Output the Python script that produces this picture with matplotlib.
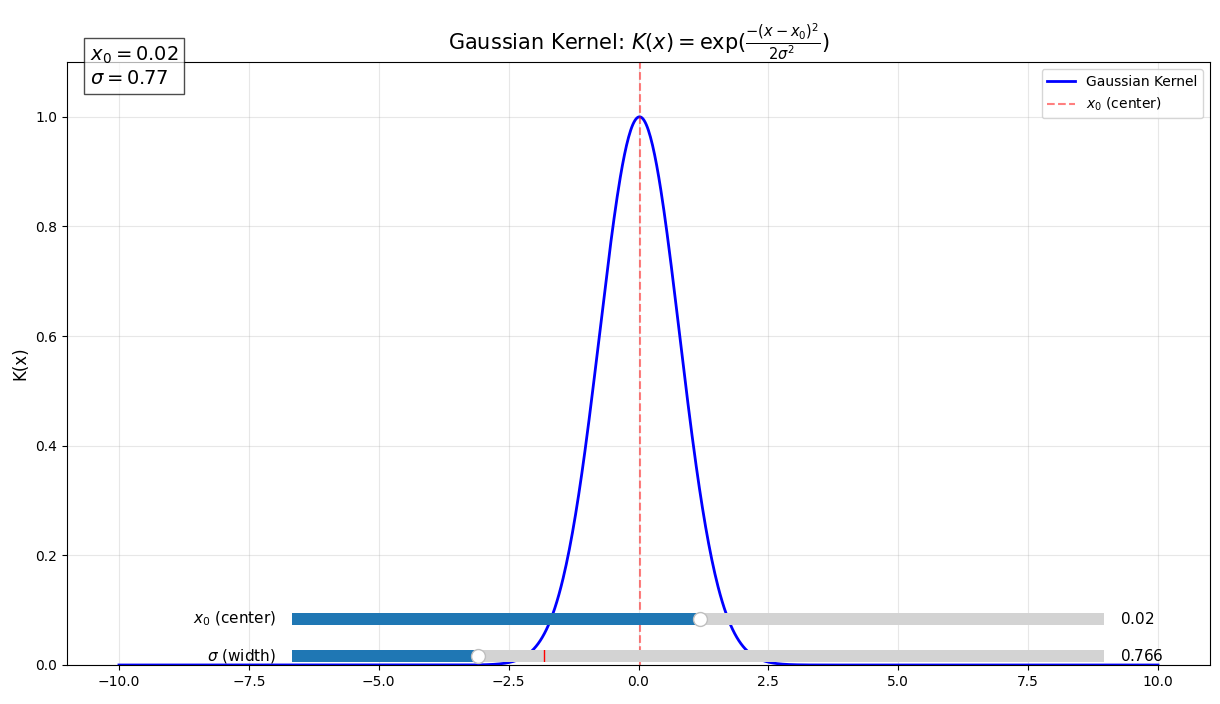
import numpy as np
import matplotlib
matplotlib.use("Agg")
import matplotlib.pyplot as plt
from matplotlib.widgets import Slider

x0 = 0.02
sigma = 0.766
x_range = [-10, 10]
n_points = 1000

fig = plt.figure(figsize=(12.2, 7.04), dpi=100)
ax = fig.add_axes([67/1220, 1-665/704, (1210-67)/1220, (665-62)/704])
x = np.linspace(x_range[0], x_range[1], n_points)
y = np.exp(-(x - x0)**2 / (2*sigma**2))
ax.plot(x, y, color='blue', lw=2, label='Gaussian Kernel')
ax.axvline(x0, color='red', ls='--', alpha=0.5, label=r'$x_0$ (center)')
ax.set_ylim(0, 1.1)
ax.set_xlim(-11, 11)
ax.set_ylabel('K(x)', fontsize=12)
ax.set_title(r'Gaussian Kernel: $K(x) = \exp(\frac{-(x-x_0)^2}{2\sigma^2})$', fontsize=15)
ax.grid(True, alpha=0.3)
ax.legend(loc='upper right')
fig.text(90/1220, 1-45/704, f'$x_0 = {x0:.2f}$\n$\\sigma = {sigma:.2f}$', fontsize=14,
         va='top', ha='left', bbox=dict(facecolor='white', alpha=0.7, edgecolor='black'))

h = 24/704
ax1 = fig.add_axes([292/1220, 1-619/704 - h/2, 812/1220, h])
ax2 = fig.add_axes([292/1220, 1-656/704 - h/2, 812/1220, h])
s1 = Slider(ax1, r'$x_0$ (center)', -5, 5, valinit=x0)
s2 = Slider(ax2, r'$\sigma$ (width)', 0.1, 3, valinit=1.0)
s2.set_val(sigma)
for s in (s1, s2):
    s.label.set_fontsize(11)
    s.valtext.set_fontsize(11)
fig.savefig('out.png', dpi=100)
